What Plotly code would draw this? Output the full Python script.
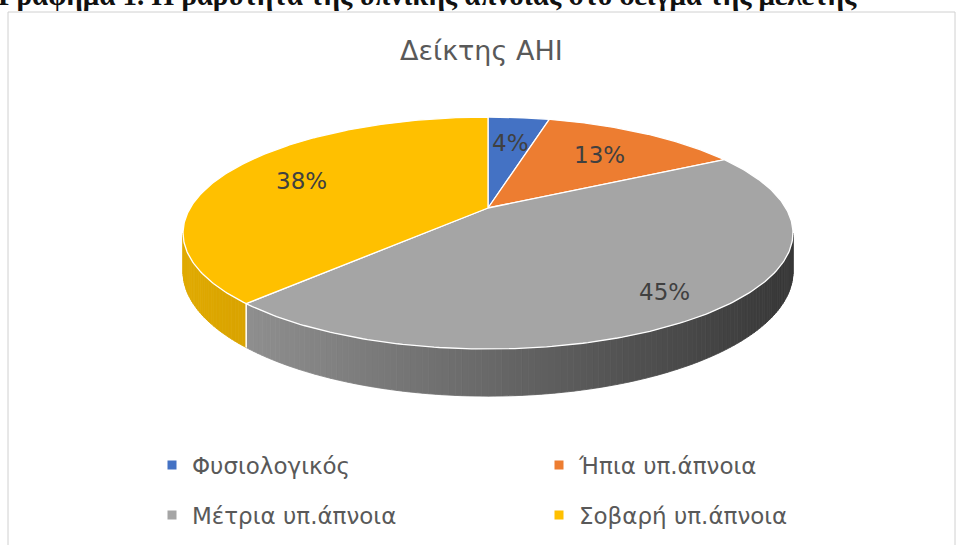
import numpy as np
import plotly.graph_objects as go

# ---------------- data ----------------
categories = ["Φυσιολογικός", "Ήπια υπ.άπνοια", "Μέτρια υπ.άπνοια", "Σοβαρή υπ.άπνοια"]
values = [4, 13, 45, 38]
title_text = "Δείκτης AHI"
caption_text = "Γράφημα 1. Η βαρύτητα της υπνικής άπνοιας στο δείγμα της μελέτης"

# ---------------- style ----------------
top_colors = ["#4472C4", "#ED7D31", "#A5A5A5", "#FFC000"]
W, H = 959, 545
CX, CY = 488.0, 208.0     # projected centre of pie top
A, B = 297.8, 110.6       # horizontal / depth radii
T = 0.2155                # perspective factor
D0 = 37.0                 # wall depth
label_r = [0.68, 0.68, 0.83, 0.71]


def proj(frac, f=1.0, drop=0.0):
    th = 2 * np.pi * np.asarray(frac, dtype=float)
    u = f * np.sin(th)
    v = -f * np.cos(th)
    w = 1 - T * v
    return CX + A * u / w, CY + (B * v + D0 * drop) / w


def wall_color(i, x):
    if i == 3:  # yellow
        k = np.clip((x - 183) / 80, 0, 1)
        r = int(224 - 8 * k); g = int(170 - 8 * k)
        return f"rgb({r},{g},0)"
    c = 142 - (x - 255) * (84 / 525)
    c = int(np.clip(c, 55, 145))
    return f"rgb({c},{c},{c})"


total = float(sum(values))
bounds = np.concatenate([[0], np.cumsum(values) / total])

fig = go.Figure()

# ---- side walls (only the visible front part) ----
vis_lo = np.arccos(-T) / (2 * np.pi)
vis_hi = 1 - vis_lo
for i in range(len(values)):
    a0, a1 = max(bounds[i], vis_lo), min(bounds[i + 1], vis_hi)
    if a1 <= a0:
        continue
    n = max(2, int((a1 - a0) * 360))
    edges = np.linspace(a0, a1, n + 1)
    for s in range(n):
        fr = np.linspace(edges[s], edges[s + 1], 4)
        xt, yt = proj(fr)
        xb, yb = proj(fr[::-1], drop=1.0)
        col = wall_color(i, float(xt.mean()))
        fig.add_trace(go.Scatter(
            x=np.concatenate([xt, xb, xt[:1]]), y=np.concatenate([yt, yb, yt[:1]]),
            mode="lines", fill="toself", fillcolor=col,
            line=dict(color=col, width=0.8), hoverinfo="skip", showlegend=False))
    for b in (bounds[i], bounds[i + 1]):
        if vis_lo < b < vis_hi:
            xt, yt = proj([b, b], drop=0.0)
            xb, yb = proj([b, b], drop=1.0)
            fig.add_trace(go.Scatter(x=[xt[0], xb[0]], y=[yt[0], yb[0]], mode="lines",
                                     line=dict(color="white", width=1.5),
                                     hoverinfo="skip", showlegend=False))

# ---- top surface ----
for i in range(len(values)):
    fr = np.linspace(bounds[i], bounds[i + 1], 200)
    xa, ya = proj(fr)
    xs = np.concatenate([[CX], xa, [CX]])
    ys = np.concatenate([[CY], ya, [CY]])
    fig.add_trace(go.Scatter(x=xs, y=ys, mode="lines", fill="toself",
                             fillcolor=top_colors[i], line=dict(color="white", width=1.3),
                             hoverinfo="skip", showlegend=False))

# ---- percentage labels ----
for i in range(len(values)):
    mid = (bounds[i] + bounds[i + 1]) / 2
    lx, ly = proj(mid, f=label_r[i])
    fig.add_annotation(x=float(lx), y=float(ly), text=f"{values[i] / total:.0%}",
                       showarrow=False, font=dict(family="DejaVu Sans", size=23, color="#404040"))

# ---- legend entries ----
for i, name in enumerate(categories):
    fig.add_trace(go.Scatter(x=[None], y=[None], mode="markers", name=name,
                             marker=dict(symbol="square", size=9, color=top_colors[i]),
                             legend="legend" if i < 2 else "legend2"))

leg_common = dict(orientation="h", xanchor="left", yanchor="middle",
                  entrywidth=342, entrywidthmode="pixels",
                  font=dict(family="DejaVu Sans", size=23, color="#595959"),
                  bgcolor="rgba(0,0,0,0)", itemclick=False, itemdoubleclick=False)

fig.update_layout(
    width=W, height=H, autosize=False,
    margin=dict(l=0, r=0, t=0, b=0, autoexpand=False),
    paper_bgcolor="white", plot_bgcolor="white",
    xaxis=dict(range=[0, W], visible=False, fixedrange=True),
    yaxis=dict(range=[H, 0], visible=False, fixedrange=True),
    legend=dict(x=152 / W, y=1 - 465 / H, **leg_common),
    legend2=dict(x=152 / W, y=1 - 515 / H, **leg_common),
    shapes=[dict(type="rect", xref="x", yref="y", x0=8, y0=12, x1=955, y1=570,
                 line=dict(color="#d0d0d0", width=1), fillcolor="rgba(0,0,0,0)", layer="below")],
)

fig.add_annotation(x=481, y=50, text=title_text, showarrow=False,
                   font=dict(family="DejaVu Sans", size=27, color="#595959"))
fig.add_annotation(xref="paper", yref="paper", x=-4 / W, y=1 + 5 / H, xanchor="left",
                   yanchor="middle", text=f"<b>{caption_text}</b>", showarrow=False,
                   font=dict(family="Liberation Serif", size=29, color="#111111"))

fig.write_html("out.html", config={"displayModeBar": False},
               post_script="document.body.style.margin='0';")
